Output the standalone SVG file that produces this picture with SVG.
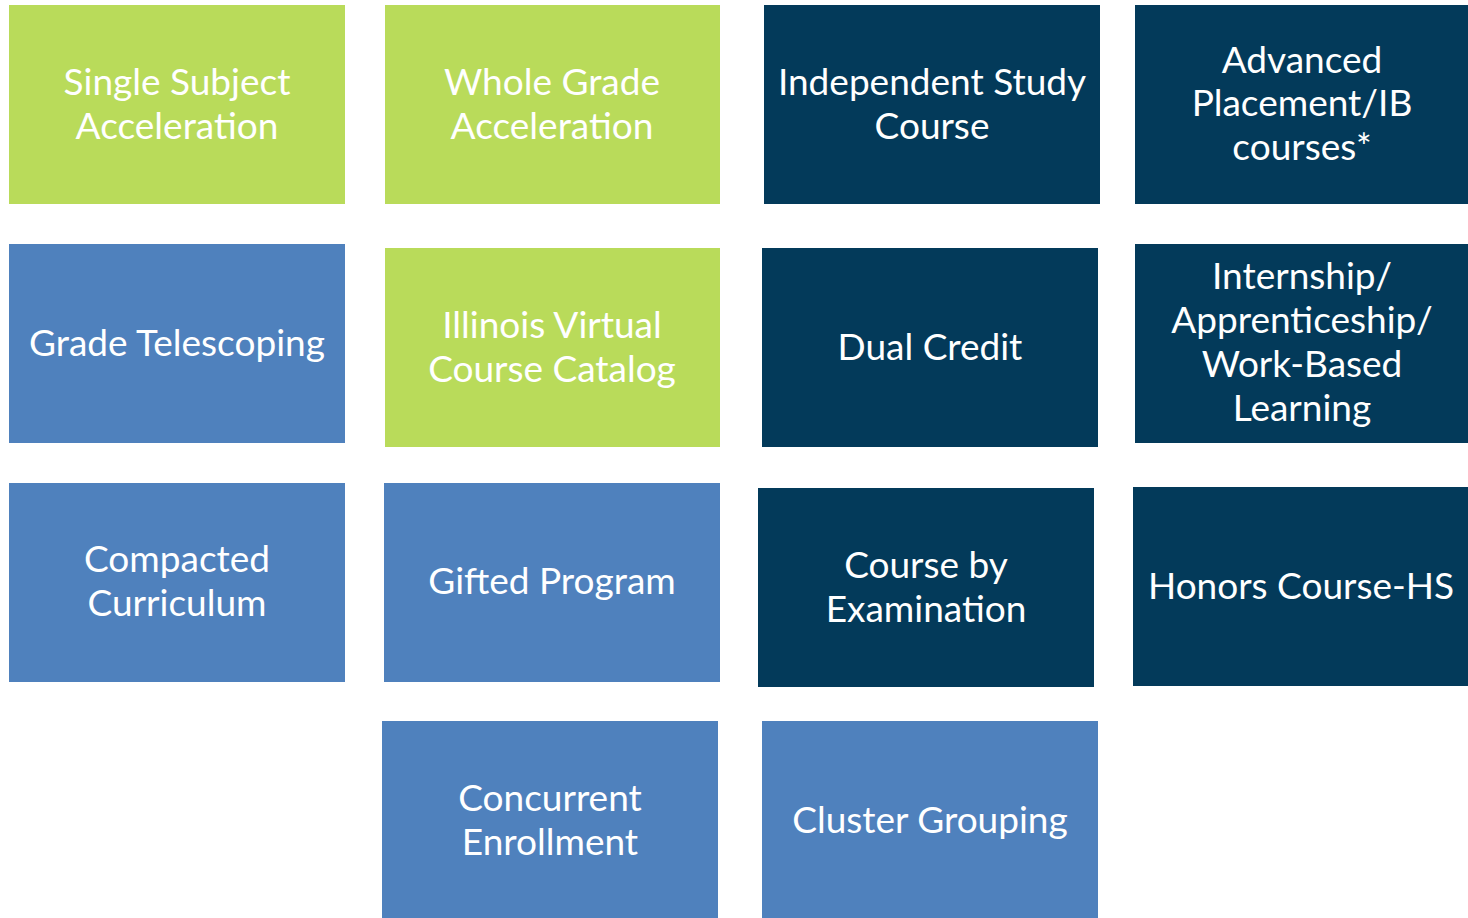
<svg xmlns="http://www.w3.org/2000/svg" width="1468" height="918" viewBox="0 0 1468 918">
<style>
.g{fill:#B9DB5A}
.b{fill:#4F81BD}
.d{fill:#033A5A}
text{font-family:Lato,"Open Sans","Liberation Sans",sans-serif;font-size:37px;fill:#ffffff;text-anchor:middle}
</style>
<rect width="1468" height="918" fill="#ffffff"/>
<g id="n1"><rect class="g" x="9" y="5" width="336" height="199"/><text x="177" y="95">Single Subject</text><text x="177" y="139">Acceleration</text></g>
<g id="n2"><rect class="g" x="385" y="5" width="335" height="199"/><text x="552" y="95">Whole Grade</text><text x="552" y="139">Acceleration</text></g>
<g id="n3"><rect class="d" x="764" y="5" width="336" height="199"/><text x="932" y="95">Independent Study</text><text x="932" y="139">Course</text></g>
<g id="n4"><rect class="d" x="1135" y="5" width="333" height="199"/><text x="1302" y="73">Advanced</text><text x="1302" y="116">Placement/IB</text><text x="1302" y="160">courses*</text></g>
<g id="n5"><rect class="b" x="9" y="244" width="336" height="199"/><text x="177" y="356">Grade Telescoping</text></g>
<g id="n6"><rect class="g" x="385" y="248" width="335" height="199"/><text x="552" y="338">Illinois Virtual</text><text x="552" y="382">Course Catalog</text></g>
<g id="n7"><rect class="d" x="762" y="248" width="336" height="199"/><text x="930" y="360">Dual Credit</text></g>
<g id="n8"><rect class="d" x="1135" y="244" width="333" height="199"/><text x="1302" y="289">Internship/</text><text x="1302" y="333">Apprenticeship/</text><text x="1302" y="377">Work-Based</text><text x="1302" y="421">Learning</text></g>
<g id="n9"><rect class="b" x="9" y="483" width="336" height="199"/><text x="177" y="572">Compacted</text><text x="177" y="616">Curriculum</text></g>
<g id="n10"><rect class="b" x="384" y="483" width="336" height="199"/><text x="552" y="594">Gifted Program</text></g>
<g id="n11"><rect class="d" x="758" y="488" width="336" height="199"/><text x="926" y="578">Course by</text><text x="926" y="622">Examination</text></g>
<g id="n12"><rect class="d" x="1133" y="487" width="335" height="199"/><text x="1301" y="599">Honors Course-HS</text></g>
<g id="n13"><rect class="b" x="382" y="721" width="336" height="197"/><text x="550" y="811">Concurrent</text><text x="550" y="855">Enrollment</text></g>
<g id="n14"><rect class="b" x="762" y="721" width="336" height="197"/><text x="930" y="833">Cluster Grouping</text></g>
<g id="connectors"></g>
</svg>
